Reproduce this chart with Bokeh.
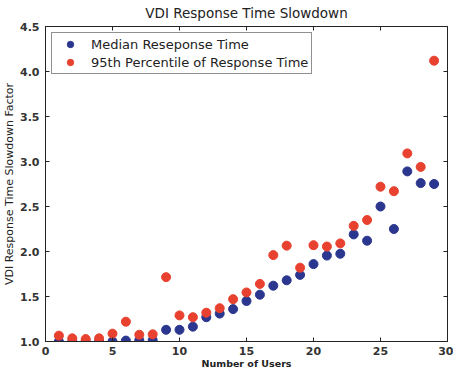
from bokeh.plotting import figure
from bokeh.models import (LinearAxis, SingleIntervalTicker, Legend, LegendItem,
                          PrintfTickFormatter, CustomJSTickFormatter)
from bokeh.embed import file_html
from bokeh.resources import INLINE

# Number of concurrent users
users = list(range(1, 30))

# Median response time slowdown factor per user count
median_slowdown = [1.00, 1.00, 1.00, 1.00, 1.00, 1.01, 1.015, 1.015, 1.13, 1.13,
                   1.165, 1.27, 1.31, 1.36, 1.45, 1.52, 1.62, 1.68, 1.74, 1.86,
                   1.955, 1.975, 2.19, 2.12, 2.50, 2.25, 2.89, 2.76, 2.75]

# 95th percentile response time slowdown factor per user count
p95_slowdown = [1.065, 1.035, 1.027, 1.035, 1.087, 1.22, 1.075, 1.08, 1.715, 1.29,
                1.27, 1.32, 1.37, 1.47, 1.545, 1.64, 1.96, 2.065, 1.82, 2.07,
                2.055, 2.09, 2.285, 2.35, 2.72, 2.67, 3.09, 2.94, 4.12]

FONT = "DejaVu Sans"
BLUE = "#2b368f"
RED = "#e8412f"
INK = "#222222"

p = figure(width=453, height=371, x_range=(0, 30), y_range=(1.0, 4.5),
           output_backend="svg", toolbar_location=None,
           min_border_left=0, min_border_right=6, min_border_top=0, min_border_bottom=0,
           background_fill_color="white", border_fill_color="white")

p.title.text = "VDI Response Time Slowdown"
p.title.align = "center"
p.title.text_font = FONT
p.title.text_font_size = "13.5px"
p.title.text_font_style = "normal"
p.title.text_color = INK
p.title.standoff = 4

p.grid.visible = False
p.outline_line_color = INK
p.outline_line_width = 1

r_med = p.scatter(users, median_slowdown, size=9, color=BLUE, line_color=BLUE)
r_p95 = p.scatter(users, p95_slowdown, size=9, color=RED, line_color=RED)

def style_axis(ax):
    ax.major_tick_in = 4
    ax.major_tick_out = 0
    ax.minor_tick_line_color = None
    ax.major_tick_line_color = INK
    ax.axis_line_color = INK
    ax.major_label_text_font = FONT
    ax.major_label_text_font_style = "bold"
    ax.major_label_text_font_size = "11px"
    ax.major_label_text_color = "#333333"
    ax.axis_label_text_font = FONT
    ax.axis_label_text_color = INK

p.xaxis.ticker = SingleIntervalTicker(interval=5)
p.yaxis.ticker = SingleIntervalTicker(interval=0.5)
p.yaxis.formatter = PrintfTickFormatter(format="%.1f")
for ax in p.xaxis + p.yaxis:
    style_axis(ax)

p.xaxis.axis_label = "Number of Users"
p.xaxis.axis_label_text_font_size = "9.5px"
p.xaxis.axis_label_text_font_style = "bold"
p.xaxis.major_label_standoff = 1
p.xaxis.axis_label_standoff = 0

p.yaxis.axis_label = "VDI Response Time Slowdown Factor"
p.yaxis.axis_label_text_font_size = "11px"
p.yaxis.axis_label_text_font_style = "normal"
p.yaxis.major_label_standoff = 2
p.yaxis.axis_label_standoff = 1

# Tick marks on the top and right edges of the frame, without labels
blank = CustomJSTickFormatter(code="return ''")
top = LinearAxis(ticker=SingleIntervalTicker(interval=5), formatter=blank)
right = LinearAxis(ticker=SingleIntervalTicker(interval=0.5), formatter=blank)
for ax in (top, right):
    style_axis(ax)
    ax.major_label_standoff = 0
    ax.axis_line_color = None
p.add_layout(top, "above")
p.add_layout(right, "right")

legend = Legend(items=[LegendItem(label="Median Reseponse Time", renderers=[r_med]),
                       LegendItem(label="95th Percentile of Response Time", renderers=[r_p95])],
                location="top_left")
legend.label_text_font = FONT
legend.label_text_font_size = "13px"
legend.label_text_color = INK
legend.border_line_color = INK
legend.border_line_width = 1
legend.background_fill_alpha = 1.0
legend.glyph_width = 30
legend.glyph_height = 16
legend.spacing = 2
legend.padding = 3
legend.margin = 6
legend.label_standoff = 6
p.add_layout(legend)

open("out.html", "w").write(file_html(p, INLINE))
